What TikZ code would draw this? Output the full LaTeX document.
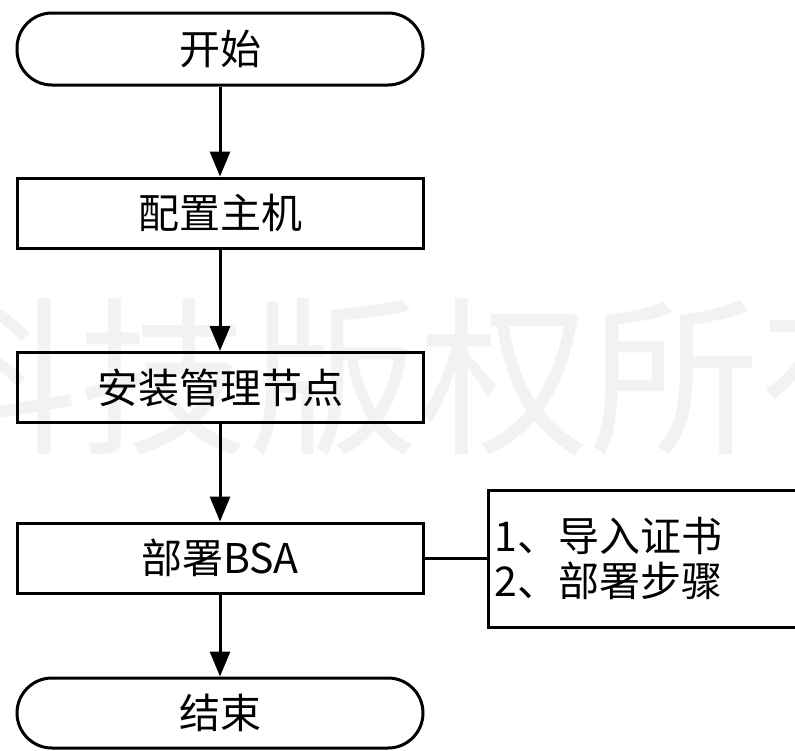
\documentclass[tikz,border=0pt]{standalone}
\usepackage{fontspec}
\setmainfont{Noto Sans CJK SC}
\usetikzlibrary{arrows.meta}
\begin{document}
\begin{tikzpicture}[x=0.5pt,y=-0.5pt,
  every node/.style={font=\fontsize{20.5}{22.5}\selectfont},
  proc/.style={draw, line width=1.5pt, minimum width=203pt, minimum height=35pt, inner sep=0pt},
  term/.style={proc, rounded corners=17.5pt},
  flow/.style={line width=1.5pt, -{Triangle[length=12.5pt,width=10pt]}},
  link/.style={line width=1.5pt},
  mark text/.style={text=black!5, font=\fontsize{85}{85}\selectfont, inner sep=0pt}]
\useasboundingbox (0,0) rectangle (795,750);
\node[mark text] (wm) at (419,377) {科技版权所有};
\node[term, minimum height=36pt] (start) at (220,49) {开始};
\node[proc] (cfg) at (220,213) {配置主机};
\node[proc] (inst) at (220,387.5) {安装管理节点};
\node[proc] (bsa) at (220,558) {部署BSA};
\node[term] (end) at (220,713) {结束};
\node[draw, line width=1.5pt, anchor=west, align=left, text width=160pt,
      minimum height=68.5pt, inner xsep=3pt] (note) at (487,558.5) {1、导入证书\\2、部署步骤};
\draw[flow] (start) -- (cfg);
\draw[flow] (cfg) -- (inst);
\draw[flow] (inst) -- (bsa);
\draw[flow] (bsa) -- (end);
\draw[link] (bsa.east) -- (bsa.east -| note.west);
\end{tikzpicture}
\end{document}
